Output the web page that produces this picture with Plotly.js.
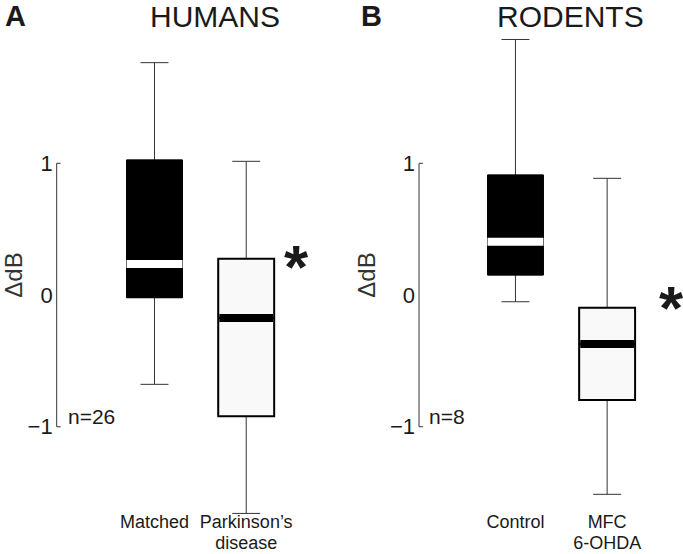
<!DOCTYPE html>
<html>
<head>
<meta charset="utf-8">
<script src="https://cdn.plot.ly/plotly-3.0.1.min.js"></script>
<style>
  html, body { margin: 0; padding: 0; background: #fff; }
  #chart { width: 683px; height: 554px; }
</style>
</head>
<body>
<div id="chart"></div>
<script>
// ---------- data ----------
const humanGroups   = ['Matched', 'Parkinson’s<br>disease'];
const humanQ1       = [-0.02, -0.92];
const humanMedian   = [0.235, -0.175];
const humanQ3       = [1.025, 0.276];
const humanLower    = [-0.678, -1.658];
const humanUpper    = [1.764, 1.015];
const humanN        = 26;

const rodentGroups  = ['Control', 'MFC<br>6-OHDA'];
const rodentQ1      = [0.152, -0.797];
const rodentMedian  = [0.405, -0.372];
const rodentQ3      = [0.911, -0.096];
const rodentLower   = [-0.051, -1.513];
const rodentUpper   = [1.94, 0.886];
const rodentN       = 8;

const yTickVals = [-1, 0, 1];
const yTickText = ['−1', '0', '1'];
const significant = [false, true];

// ---------- drawing ----------
const FONT = 'Liberation Sans, Arial, Helvetica, sans-serif';
const TXT = '#1a1a1a';
const BW = 0.61;
const traces = [];

function addPanel(xa, ya, groups, q1, med, q3, lo, hi) {
  groups.forEach((g, i) => {
    const x = i + 1;
    const dark = i === 0;
    // whiskers
    traces.push({
      type: 'box', xaxis: xa, yaxis: ya,
      x: [x], q1: [q1[i]], median: [med[i]], q3: [q3[i]],
      lowerfence: [lo[i]], upperfence: [hi[i]],
      width: BW, whiskerwidth: 0.5, boxpoints: false,
      fillcolor: 'rgba(0,0,0,0)', line: { color: '#333', width: 1 },
      hoverinfo: 'skip', showlegend: false
    });
    // box body
    traces.push({
      type: 'box', xaxis: xa, yaxis: ya,
      x: [x], q1: [q1[i]], median: [med[i]], q3: [q3[i]],
      lowerfence: [q1[i]], upperfence: [q3[i]],
      width: BW, whiskerwidth: 0, boxpoints: false,
      fillcolor: dark ? '#000' : '#f9f9f9',
      line: { color: '#000', width: dark ? 1 : 2 },
      hoverinfo: 'skip', showlegend: false
    });
    // median bar
    traces.push({
      type: 'scatter', mode: 'lines', xaxis: xa, yaxis: ya,
      x: [x - BW / 2 + (dark ? 0 : 0.012), x + BW / 2 - (dark ? 0 : 0.012)],
      y: [med[i], med[i]],
      line: { color: dark ? '#fff' : '#000', width: 8 },
      hoverinfo: 'skip', showlegend: false
    });
  });
}
addPanel('x', 'y', humanGroups, humanQ1, humanMedian, humanQ3, humanLower, humanUpper);
addPanel('x2', 'y2', rodentGroups, rodentQ1, rodentMedian, rodentQ3, rodentLower, rodentUpper);
// empty traces so the second-line label axes get drawn
traces.push({ type: 'scatter', x: [], y: [], xaxis: 'x3', yaxis: 'y', hoverinfo: 'skip', showlegend: false });
traces.push({ type: 'scatter', x: [], y: [], xaxis: 'x4', yaxis: 'y2', hoverinfo: 'skip', showlegend: false });

const LABEL_SIZE = 18;
const LINE_GAP = 21;
function labelLine(labels, k) {
  return labels.map(s => (s.split('<br>')[k] || ''));
}
function xAxis(domain, r0, labels, anchor, line, overlay) {
  const ax = {
    domain: domain, range: [r0, 2.8], anchor: anchor,
    tickvals: [1, 2], ticktext: labelLine(labels, line), ticks: '',
    showgrid: false, zeroline: false, showline: false,
    tickfont: { family: FONT, size: LABEL_SIZE, color: TXT },
    ticklabelstandoff: -6 + line * LINE_GAP, fixedrange: true
  };
  if (overlay) ax.overlaying = overlay;
  return ax;
}
function yAxis(anchor) {
  return {
    domain: [0, 1], range: [-1.670, 1.974], anchor: anchor,
    tickvals: yTickVals, ticktext: yTickText, ticks: '',
    showgrid: false, zeroline: false, showline: false,
    tickfont: { family: FONT, size: 22, color: TXT },
    ticklabelstandoff: 3,
    title: { text: 'ΔdB', font: { family: FONT, size: 24, color: '#333' }, standoff: 7 },
    fixedrange: true
  };
}

function bracket(xref, yref) {
  const line = { color: '#333', width: 1 };
  return [
    { type: 'line', xref: xref, yref: yref, x0: 0, x1: 0, y0: yTickVals[0], y1: yTickVals[2], line: line },
    { type: 'line', xref: xref, yref: yref, x0: 0, x1: 0.015, y0: yTickVals[2], y1: yTickVals[2], line: line },
    { type: 'line', xref: xref, yref: yref, x0: 0, x1: 0.015, y0: yTickVals[0], y1: yTickVals[0], line: line }
  ];
}

const titleY = 515 / 480;   // top edge of the figure in paper units
const titleFont = { family: FONT, size: 29, color: TXT };
const annotations = [
  { text: '<b>A</b>', xref: 'paper', yref: 'paper', x: 0.022, y: titleY, showarrow: false, borderpad: 0,
    font: titleFont, xanchor: 'center', yanchor: 'top', yshift: 1 },
  { text: 'HUMANS', xref: 'paper', yref: 'paper', x: 0.3143, y: titleY, showarrow: false, borderpad: 0,
    font: { family: FONT, size: 30, color: TXT }, xanchor: 'center', yanchor: 'top', yshift: 1 },
  { text: '<b>B</b>', xref: 'paper', yref: 'paper', x: 0.5442, y: titleY, showarrow: false, borderpad: 0,
    font: titleFont, xanchor: 'center', yanchor: 'top', yshift: 1 },
  { text: 'RODENTS', xref: 'paper', yref: 'paper', x: 0.8357, y: titleY, showarrow: false, borderpad: 0,
    font: { family: FONT, size: 30, color: TXT }, xanchor: 'center', yanchor: 'top', yshift: 1 },
  { text: 'n=' + humanN, xref: 'x domain', yref: 'y', x: 0.034, y: -0.92, showarrow: false,
    font: { family: FONT, size: 21, color: TXT }, xanchor: 'left', yanchor: 'middle' },
  { text: 'n=' + rodentN, xref: 'x2 domain', yref: 'y2', x: 0.032, y: -0.92, showarrow: false,
    font: { family: FONT, size: 21, color: TXT }, xanchor: 'left', yanchor: 'middle' }
];
significant.forEach((s, i) => {
  if (!s) return;
  annotations.push({ text: '<b>*</b>', xref: 'x', yref: 'y', x: i + 1.55, y: 0.28, showarrow: false,
    font: { family: FONT, size: 62, color: TXT }, xanchor: 'center', yanchor: 'middle', yshift: -8 });
  annotations.push({ text: '<b>*</b>', xref: 'x2', yref: 'y2', x: i + 1.705, y: -0.04, showarrow: false,
    font: { family: FONT, size: 62, color: TXT }, xanchor: 'center', yanchor: 'middle', yshift: -7 });
});

const domA = [0.0830, 0.4679], domB = [0.6135, 0.9963];
const layout = {
  width: 683, height: 554, autosize: false,
  margin: { l: 0, r: 0, t: 35, b: 39 },
  paper_bgcolor: '#fff', plot_bgcolor: '#fff',
  font: { family: FONT, color: TXT },
  showlegend: false, boxmode: 'overlay', hovermode: false,
  xaxis: xAxis(domA, -0.0665, humanGroups, 'y', 0),
  yaxis: yAxis('x'),
  xaxis2: xAxis(domB, -0.052, rodentGroups, 'y2', 0),
  yaxis2: yAxis('x2'),
  xaxis3: xAxis(domA, -0.0665, humanGroups, 'y', 1, 'x'),
  xaxis4: xAxis(domB, -0.052, rodentGroups, 'y2', 1, 'x2'),
  shapes: bracket('x domain', 'y').concat(bracket('x2 domain', 'y2')),
  annotations: annotations
};

Plotly.newPlot('chart', traces, layout, { displayModeBar: false, staticPlot: true });
</script>
</body>
</html>
